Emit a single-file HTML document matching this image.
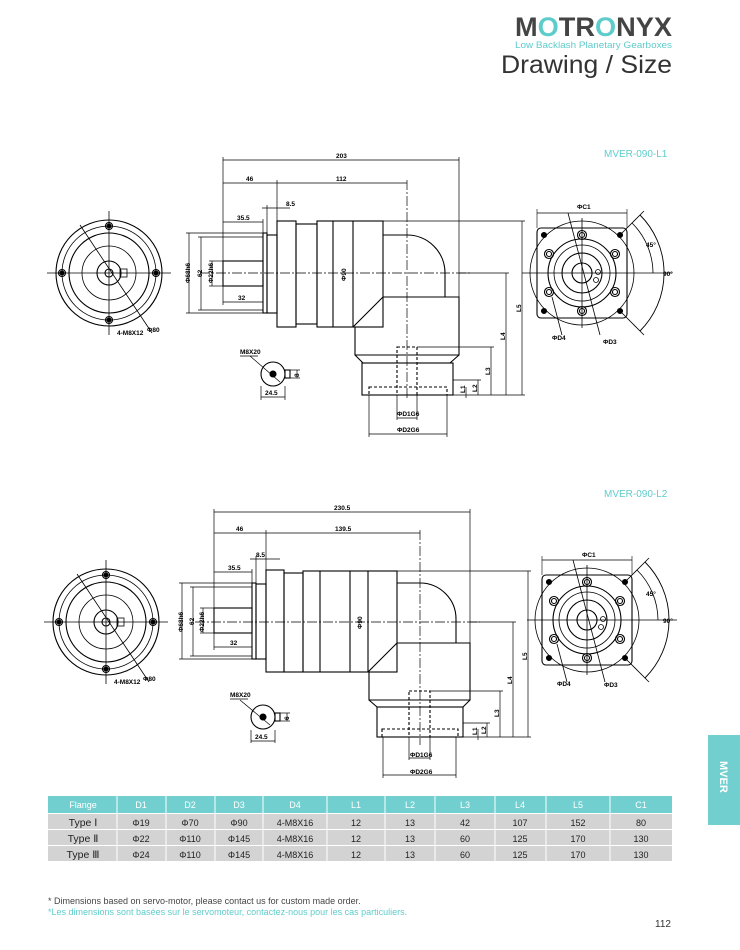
<!DOCTYPE html>
<html><head><meta charset="utf-8"><style>
html,body{margin:0;padding:0;background:#fff}
body{width:740px;height:950px;position:relative;overflow:hidden;font-family:"Liberation Sans",sans-serif}
svg{position:absolute;left:0;top:0}
.d{font-family:"Liberation Sans",sans-serif;font-size:6.5px;font-weight:bold;fill:#000}
</style></head><body>
<svg width="740" height="950" viewBox="0 0 740 950" xmlns="http://www.w3.org/2000/svg">
<defs>
<g id="front" fill="none" stroke="#000" stroke-width="1.1">
  <circle r="53"/><circle r="47" stroke-width="0.8"/><circle r="40"/><circle r="27" stroke-width="0.8"/><circle r="12"/><circle r="4"/>
  <rect x="11" y="-4" width="7" height="8" stroke-width="0.8"/>
  <line x1="-62" y1="0" x2="62" y2="0" stroke-width="0.8"/><line x1="0" y1="-62" x2="0" y2="62" stroke-width="0.8"/>
  <circle cx="0" cy="-47" r="3.5"/><circle cx="0" cy="47" r="3.5"/><circle cx="-47" cy="0" r="3.5"/><circle cx="47" cy="0" r="3.5"/>
  <circle cx="0" cy="-47" r="2" fill="#000"/><circle cx="0" cy="47" r="2" fill="#000"/><circle cx="-47" cy="0" r="2" fill="#000"/><circle cx="47" cy="0" r="2" fill="#000"/>
  <line x1="-29" y1="-48" x2="43" y2="60" stroke-width="0.8"/>
</g>
<g id="side" fill="none" stroke="#000" stroke-width="1.1">
  <rect x="-45" y="-45" width="90" height="90" rx="4"/>
  <circle r="52" stroke-width="0.8"/><circle r="34"/><circle r="28" stroke-width="0.8"/><circle r="20"/><circle r="10"/>
  <circle cx="0" cy="-38" r="4.5"/><circle cx="0" cy="-38" r="2.5"/><circle cx="0" cy="38" r="4.5"/><circle cx="0" cy="38" r="2.5"/>
  <circle cx="-33" cy="-19" r="4.5"/><circle cx="-33" cy="-19" r="2.5"/><circle cx="33" cy="-19" r="4.5"/><circle cx="33" cy="-19" r="2.5"/>
  <circle cx="-33" cy="19" r="4.5"/><circle cx="-33" cy="19" r="2.5"/><circle cx="33" cy="19" r="4.5"/><circle cx="33" cy="19" r="2.5"/>
  <circle cx="-38" cy="-38" r="2.5" fill="#000"/><circle cx="38" cy="-38" r="2.5" fill="#000"/><circle cx="-38" cy="38" r="2.5" fill="#000"/><circle cx="38" cy="38" r="2.5" fill="#000"/>
  <circle cx="16" cy="-1" r="2.5" stroke-width="0.8"/><circle cx="14" cy="7" r="2.5" stroke-width="0.8"/>
  <line x1="-60" y1="0" x2="90" y2="0" stroke-width="0.8"/><line x1="0" y1="-55" x2="0" y2="55" stroke-width="0.8"/>
  <line x1="-14" y1="-60" x2="18" y2="62" stroke-width="0.8"/>
  <line x1="-30" y1="24" x2="-20" y2="62" stroke-width="0.8"/>
  <line x1="-45" y1="-64" x2="-45" y2="-45" stroke-width="0.6"/><line x1="45" y1="-64" x2="45" y2="-45" stroke-width="0.6"/>
  <line x1="-45" y1="-60" x2="45" y2="-60" stroke-width="0.8"/>
  <path d="M58,-58 A82,82 0 0 1 58,58" stroke-width="0.9"/>
  <path d="M50,-50 A71,71 0 0 1 71,0" stroke-width="0.8"/>
  <line x1="38" y1="-38" x2="62" y2="-62" stroke-width="0.8"/><line x1="38" y1="38" x2="62" y2="62" stroke-width="0.8"/>
</g>
</defs>

<!-- Header -->
<text x="515" y="36" font-family="Liberation Sans" font-weight="bold" font-size="27" fill="#444" textLength="157" lengthAdjust="spacingAndGlyphs">M<tspan fill="#5fcccc">O</tspan>TR<tspan fill="#5fcccc">O</tspan>NYX</text>
<text x="515" y="48" font-family="Liberation Sans" font-size="9.6" fill="#5fcccc" textLength="157" lengthAdjust="spacingAndGlyphs">Low Backlash Planetary Gearboxes</text>
<text x="501" y="73" font-family="Liberation Sans" font-size="25" fill="#333" textLength="171" lengthAdjust="spacingAndGlyphs">Drawing / Size</text>

<text x="604" y="157" font-family="Liberation Sans" font-size="10" fill="#5fcccc">MVER-090-L1</text>
<text x="604" y="497" font-family="Liberation Sans" font-size="10" fill="#5fcccc">MVER-090-L2</text>

<!-- Drawing 1 -->
<use href="#front" x="109" y="273"/>
<text class="d" x="117" y="335">4-M8X12</text><text class="d" x="147" y="332">Φ80</text>
<use href="#side" x="582" y="273"/>
<text class="d" x="577" y="209">ΦC1</text><text class="d" x="646" y="247">45°</text><text class="d" x="663" y="276">90°</text>
<text class="d" x="552" y="340">ΦD4</text><text class="d" x="603" y="344">ΦD3</text>

<g fill="none" stroke="#000" stroke-width="1.1">
  <rect x="223" y="261" width="40" height="25"/>
  <rect x="263" y="233" width="4" height="80"/>
  <rect x="267" y="235" width="10" height="78"/>
  <rect x="277" y="221" width="19" height="106"/>
  <rect x="296" y="224" width="21" height="100"/>
  <rect x="317" y="221" width="66" height="106"/>
  <line x1="333" y1="221" x2="333" y2="327"/><line x1="353" y1="221" x2="353" y2="327"/>
  <path d="M383,235 L407,235 A38,38 0 0 1 445,273 L445,297"/>
  <path d="M353,327 L383,297 L459,297 L459,355 L355,355 L355,327"/>
  <path d="M355,355 L363,363 L450,363 L459,355"/>
  <rect x="362" y="363" width="91" height="32"/>
  <rect x="369" y="387" width="78" height="8" stroke-dasharray="3,2"/>
  <rect x="397" y="347" width="20" height="48" stroke-dasharray="3,2"/>
  <circle cx="273" cy="374" r="12"/><circle cx="273" cy="374" r="3" fill="#000"/><rect x="285" y="370" width="5" height="8"/>
</g>
<g stroke="#000" stroke-width="0.7" fill="none">
  <line x1="200" y1="273" x2="470" y2="273" stroke-dasharray="10,2,2,2"/>
  <line x1="407" y1="180" x2="407" y2="400" stroke-dasharray="10,2,2,2"/>
  <line x1="223" y1="157" x2="223" y2="305"/><line x1="459" y1="157" x2="459" y2="297"/>
  <line x1="223" y1="160" x2="459" y2="160"/>
  <line x1="223" y1="183" x2="407" y2="183"/><line x1="277" y1="180" x2="277" y2="221"/>
  <line x1="262" y1="208" x2="290" y2="208"/><line x1="267" y1="205" x2="267" y2="233"/>
  <line x1="223" y1="222" x2="263" y2="222"/><line x1="263" y1="219" x2="263" y2="233"/>
  <line x1="223" y1="302" x2="263" y2="302"/>
  <line x1="189" y1="233" x2="189" y2="313"/><line x1="186" y1="233" x2="263" y2="233"/><line x1="186" y1="313" x2="267" y2="313"/>
  <line x1="201" y1="237" x2="201" y2="310"/><line x1="198" y1="237" x2="263" y2="237"/><line x1="198" y1="310" x2="263" y2="310"/>
  <line x1="212" y1="261" x2="212" y2="286"/><line x1="209" y1="261" x2="223" y2="261"/><line x1="209" y1="286" x2="223" y2="286"/>
  <line x1="383" y1="221" x2="525" y2="221"/><line x1="522" y1="221" x2="522" y2="395"/>
  <line x1="459" y1="273" x2="509" y2="273"/><line x1="506" y1="273" x2="506" y2="395"/>
  <line x1="417" y1="347" x2="494" y2="347"/><line x1="491" y1="347" x2="491" y2="395"/>
  <line x1="453" y1="380" x2="481" y2="380"/><line x1="478" y1="380" x2="478" y2="395"/>
  <line x1="466" y1="387" x2="466" y2="398"/>
  <line x1="453" y1="395" x2="525" y2="395"/>
  <line x1="397" y1="395" x2="397" y2="420"/><line x1="417" y1="395" x2="417" y2="420"/><line x1="397" y1="418" x2="417" y2="418"/>
  <line x1="369" y1="395" x2="369" y2="437"/><line x1="447" y1="395" x2="447" y2="437"/><line x1="369" y1="434" x2="447" y2="434"/>
  <line x1="261" y1="386" x2="261" y2="400"/><line x1="285" y1="386" x2="285" y2="400"/><line x1="261" y1="397" x2="285" y2="397"/>
  <line x1="297" y1="370" x2="297" y2="378"/><line x1="290" y1="370" x2="300" y2="370"/><line x1="290" y1="378" x2="300" y2="378"/>
  <line x1="250" y1="356" x2="280" y2="382"/><line x1="240" y1="356" x2="258" y2="356"/>
</g>
<g class="d">
  <text x="336" y="158">203</text><text x="246" y="181">46</text><text x="336" y="181">112</text>
  <text x="286" y="206">8.5</text><text x="237" y="220">35.5</text><text x="238" y="300">32</text>
  <text x="0" y="0" transform="translate(190,283) rotate(-90)">Φ68h6</text>
  <text x="0" y="0" transform="translate(202,277) rotate(-90)">62</text>
  <text x="0" y="0" transform="translate(213,283) rotate(-90)">Φ22h6</text>
  <text x="0" y="0" transform="translate(346,281) rotate(-90)">Φ90</text>
  <text x="0" y="0" transform="translate(521,312) rotate(-90)">L5</text>
  <text x="0" y="0" transform="translate(505,340) rotate(-90)">L4</text>
  <text x="0" y="0" transform="translate(490,375) rotate(-90)">L3</text>
  <text x="0" y="0" transform="translate(477,392) rotate(-90)">L2</text>
  <text x="0" y="0" transform="translate(465,393) rotate(-90)">L1</text>
  <text x="397" y="416">ΦD1G6</text><text x="397" y="432">ΦD2G6</text>
  <text x="240" y="354">M8X20</text><text x="265" y="395">24.5</text><text x="0" y="0" transform="translate(299,377) rotate(-90)">8</text>
</g>

<!-- Drawing 2 -->
<use href="#front" x="106" y="622"/>
<text class="d" x="114" y="684">4-M8X12</text><text class="d" x="143" y="681">Φ80</text>
<use href="#side" x="587" y="620"/>
<text class="d" x="582" y="557">ΦC1</text><text class="d" x="646" y="596">45°</text><text class="d" x="663" y="623">90°</text>
<text class="d" x="557" y="686">ΦD4</text><text class="d" x="604" y="687">ΦD3</text>

<g fill="none" stroke="#000" stroke-width="1.1">
  <rect x="214" y="608" width="38" height="25"/>
  <rect x="252" y="583" width="4" height="76"/>
  <rect x="256" y="584" width="10" height="75"/>
  <rect x="266" y="570" width="18" height="102"/>
  <rect x="284" y="573" width="19" height="99"/>
  <rect x="303" y="571" width="94" height="101"/>
  <line x1="320" y1="571" x2="320" y2="672"/><line x1="350" y1="571" x2="350" y2="672"/><line x1="368" y1="571" x2="368" y2="672"/>
  <path d="M397,583 L420,583 A36,36 0 0 1 456,619 L456,643"/>
  <path d="M368,672 L397,643 L470,643 L470,700 L369,700 L369,672"/>
  <path d="M369,700 L377,707 L463,707 L470,700"/>
  <rect x="377" y="707" width="86" height="30"/>
  <rect x="382" y="729" width="76" height="8" stroke-dasharray="3,2"/>
  <rect x="409" y="691" width="21" height="46" stroke-dasharray="3,2"/>
  <circle cx="263" cy="717" r="12"/><circle cx="263" cy="717" r="3" fill="#000"/><rect x="275" y="713" width="5" height="8"/>
</g>
<g stroke="#000" stroke-width="0.7" fill="none">
  <line x1="195" y1="622" x2="480" y2="622" stroke-dasharray="10,2,2,2"/>
  <line x1="420" y1="530" x2="420" y2="745" stroke-dasharray="10,2,2,2"/>
  <line x1="214" y1="509" x2="214" y2="650"/><line x1="470" y1="509" x2="470" y2="643"/>
  <line x1="214" y1="512" x2="470" y2="512"/>
  <line x1="214" y1="533" x2="420" y2="533"/><line x1="266" y1="530" x2="266" y2="570"/>
  <line x1="250" y1="559" x2="280" y2="559"/><line x1="256" y1="556" x2="256" y2="583"/>
  <line x1="214" y1="572" x2="252" y2="572"/><line x1="252" y1="569" x2="252" y2="583"/>
  <line x1="214" y1="647" x2="252" y2="647"/>
  <line x1="182" y1="583" x2="182" y2="659"/><line x1="179" y1="583" x2="252" y2="583"/><line x1="179" y1="659" x2="256" y2="659"/>
  <line x1="193" y1="587" x2="193" y2="656"/><line x1="190" y1="587" x2="252" y2="587"/><line x1="190" y1="656" x2="252" y2="656"/>
  <line x1="203" y1="608" x2="203" y2="633"/><line x1="200" y1="608" x2="214" y2="608"/><line x1="200" y1="633" x2="214" y2="633"/>
  <line x1="397" y1="571" x2="531" y2="571"/><line x1="528" y1="571" x2="528" y2="737"/>
  <line x1="470" y1="622" x2="516" y2="622"/><line x1="513" y1="622" x2="513" y2="737"/>
  <line x1="430" y1="691" x2="503" y2="691"/><line x1="500" y1="691" x2="500" y2="737"/>
  <line x1="463" y1="723" x2="490" y2="723"/><line x1="487" y1="723" x2="487" y2="737"/>
  <line x1="478" y1="729" x2="478" y2="740"/>
  <line x1="463" y1="737" x2="531" y2="737"/>
  <line x1="409" y1="737" x2="409" y2="760"/><line x1="430" y1="737" x2="430" y2="760"/><line x1="409" y1="758" x2="430" y2="758"/>
  <line x1="383" y1="737" x2="383" y2="778"/><line x1="456" y1="737" x2="456" y2="778"/><line x1="383" y1="775" x2="456" y2="775"/>
  <line x1="251" y1="730" x2="251" y2="743"/><line x1="275" y1="730" x2="275" y2="743"/><line x1="251" y1="741" x2="275" y2="741"/>
  <line x1="287" y1="713" x2="287" y2="721"/><line x1="280" y1="713" x2="290" y2="713"/><line x1="280" y1="721" x2="290" y2="721"/>
  <line x1="240" y1="700" x2="270" y2="725"/><line x1="230" y1="699" x2="248" y2="699"/>
</g>
<g class="d">
  <text x="334" y="510">230.5</text><text x="236" y="531">46</text><text x="335" y="531">139.5</text>
  <text x="256" y="557">8.5</text><text x="228" y="570">35.5</text><text x="230" y="645">32</text>
  <text x="0" y="0" transform="translate(183,632) rotate(-90)">Φ68h6</text>
  <text x="0" y="0" transform="translate(194,625) rotate(-90)">62</text>
  <text x="0" y="0" transform="translate(204,632) rotate(-90)">Φ22h6</text>
  <text x="0" y="0" transform="translate(362,629) rotate(-90)">Φ90</text>
  <text x="0" y="0" transform="translate(527,660) rotate(-90)">L5</text>
  <text x="0" y="0" transform="translate(512,684) rotate(-90)">L4</text>
  <text x="0" y="0" transform="translate(499,717) rotate(-90)">L3</text>
  <text x="0" y="0" transform="translate(486,734) rotate(-90)">L2</text>
  <text x="0" y="0" transform="translate(477,735) rotate(-90)">L1</text>
  <text x="410" y="757">ΦD1G6</text><text x="410" y="774">ΦD2G6</text>
  <text x="230" y="697">M8X20</text><text x="255" y="739">24.5</text><text x="0" y="0" transform="translate(289,720) rotate(-90)">6</text>
</g>

<!-- Table -->
<g font-family="Liberation Sans" font-size="9" text-anchor="middle">
  <rect x="48" y="796" width="624" height="17" fill="#72cfcf"/>
  <rect x="48" y="814" width="624" height="47" fill="#d3d3d3"/>
  <g stroke="#fff" stroke-width="1">
    <line x1="48" y1="813.5" x2="672" y2="813.5"/><line x1="48" y1="829.5" x2="672" y2="829.5"/><line x1="48" y1="845.5" x2="672" y2="845.5"/>
    <line x1="117" y1="796" x2="117" y2="861"/><line x1="166" y1="796" x2="166" y2="861"/><line x1="215" y1="796" x2="215" y2="861"/>
    <line x1="263" y1="796" x2="263" y2="861"/><line x1="327" y1="796" x2="327" y2="861"/><line x1="385" y1="796" x2="385" y2="861"/>
    <line x1="435" y1="796" x2="435" y2="861"/><line x1="495" y1="796" x2="495" y2="861"/><line x1="546" y1="796" x2="546" y2="861"/>
    <line x1="610" y1="796" x2="610" y2="861"/>
  </g>
  <g fill="#fff"><text x="83" y="808">Flange</text><text x="141" y="808">D1</text><text x="190" y="808">D2</text><text x="239" y="808">D3</text><text x="295" y="808">D4</text><text x="356" y="808">L1</text><text x="410" y="808">L2</text><text x="465" y="808">L3</text><text x="520" y="808">L4</text><text x="578" y="808">L5</text><text x="641" y="808">C1</text></g>
  <g fill="#222">
    <text x="83" y="826" font-size="10.5">Type Ⅰ</text><text x="141" y="826">Φ19</text><text x="190" y="826">Φ70</text><text x="239" y="826">Φ90</text><text x="295" y="826">4-M8X16</text><text x="356" y="826">12</text><text x="410" y="826">13</text><text x="465" y="826">42</text><text x="520" y="826">107</text><text x="578" y="826">152</text><text x="641" y="826">80</text>
    <text x="83" y="842" font-size="10.5">Type Ⅱ</text><text x="141" y="842">Φ22</text><text x="190" y="842">Φ110</text><text x="239" y="842">Φ145</text><text x="295" y="842">4-M8X16</text><text x="356" y="842">12</text><text x="410" y="842">13</text><text x="465" y="842">60</text><text x="520" y="842">125</text><text x="578" y="842">170</text><text x="641" y="842">130</text>
    <text x="83" y="858" font-size="10.5">Type Ⅲ</text><text x="141" y="858">Φ24</text><text x="190" y="858">Φ110</text><text x="239" y="858">Φ145</text><text x="295" y="858">4-M8X16</text><text x="356" y="858">12</text><text x="410" y="858">13</text><text x="465" y="858">60</text><text x="520" y="858">125</text><text x="578" y="858">170</text><text x="641" y="858">130</text>
  </g>
</g>

<text x="48" y="904" font-family="Liberation Sans" font-size="9" fill="#444">* Dimensions based on servo-motor,  please contact us for custom made order.</text>
<text x="48" y="915" font-family="Liberation Sans" font-size="9" fill="#5fcccc">*Les dimensions sont basées sur le servomoteur, contactez-nous pour les cas particuliers.</text>
<text x="671" y="927" font-family="Liberation Sans" font-size="10" fill="#333" text-anchor="end">112</text>

<rect x="708" y="735" width="32" height="90" fill="#72cfcf"/>
<text x="0" y="0" transform="translate(720,761) rotate(90)" font-family="Liberation Sans" font-weight="bold" font-size="11" fill="#fff">MVER</text>
</svg>
</body></html>
